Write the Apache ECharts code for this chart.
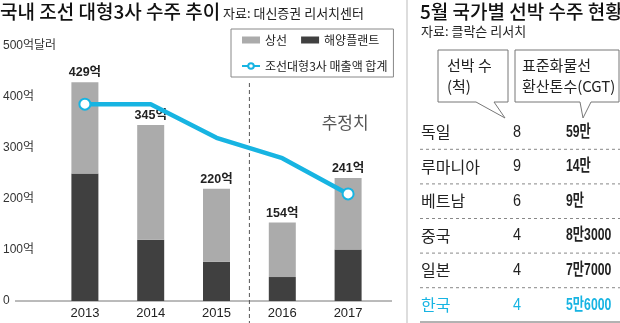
<!DOCTYPE html>
<html><head><meta charset="utf-8">
<script src="https://cdn.jsdelivr.net/npm/echarts@6/dist/echarts.min.js"></script>
<style>html,body{margin:0;padding:0;background:#fff}#c{width:620px;height:323px}</style>
</head><body><div id="c"></div>
<script>
const years = ['2013','2014','2015','2016','2017'];
const plant = [250,120,77,47,101];      // 해양플랜트
const ship = [179,225,143,107,140];     // 상선
const totals = [429,345,220,154,241];   // labels
const revenue = [386,386,320,280,210];  // 조선대형3사 매출액 합계

const countries = ['독일','루마니아','베트남','중국','일본','한국'];
const shipCounts = ['8','9','6','4','4','4'];
const cgt = ['59만','14만','9만','8만3000','7만7000','5만6000'];

const NUM = '"Liberation Sans","Noto Sans CJK KR",sans-serif';
const KR = '"Noto Sans CJK KR","Liberation Sans",sans-serif';
const CYAN = '#17b4e2';

const chart = echarts.init(document.getElementById('c'));
chart.setOption({
  animation:false,
  textStyle:{fontFamily:NUM},
  grid:{left:49,right:239,top:46,bottom:22},
  legend:{
    left:231, top:29, width:142,
    padding:[5,6,5,10], itemGap:14,
    borderColor:'#888', borderWidth:1,
    itemWidth:18, itemHeight:7,
    textStyle:{fontFamily:KR,fontSize:12,color:'#222'},
    data:[{name:'상선',icon:'rect'},{name:'해양플랜트',icon:'rect'},{name:'조선대형3사 매출액 합계'}]
  },
  xAxis:{
    type:'category', data:years, boundaryGap:true,
    axisLine:{show:false}, axisTick:{show:false}, splitLine:{show:false},
    axisLabel:{margin:6,fontSize:13,color:'#222',fontFamily:NUM}
  },
  yAxis:{
    type:'value', min:0, max:500, interval:100,
    axisLine:{show:false}, axisTick:{show:false}, splitLine:{show:false},
    axisLabel:{align:'left',margin:49,fontSize:12,color:'#333',fontFamily:NUM,
      formatter:v=> v===0?'0':(v===500?'500억달러':v+'억')}
  },
  series:[
    {name:'해양플랜트',type:'bar',stack:'s',barWidth:27,
     itemStyle:{color:'#404040'}, data:plant},
    {name:'상선',type:'bar',stack:'s',barWidth:27,
     itemStyle:{color:'#ababab'},
     label:{show:true,position:'top',distance:3,fontSize:12.5,fontWeight:'bold',color:'#222',
       fontFamily:NUM,formatter:p=>totals[p.dataIndex]+'억'},
     data:ship},
    {name:'조선대형3사 매출액 합계',type:'line',z:5,
     symbol:'circle',symbolSize:11,
     lineStyle:{color:CYAN,width:4.5},
     itemStyle:{color:'#fff',borderColor:CYAN,borderWidth:2},
     data:revenue.map((v,i)=>({value:v,symbol:(i===0||i===revenue.length-1)?'circle':'none'}))}
  ]
});

const p2 = chart.convertToPixel({gridIndex:0},[2,0]);
const p3 = chart.convertToPixel({gridIndex:0},[3,0]);
const divX = (p2[0]+p3[0])/2;
const y0 = p2[1];
const p4 = chart.convertToPixel({gridIndex:0},[4,350]);

const g = [];
g.push({type:'line',shape:{x1:15,y1:y0,x2:392,y2:y0},style:{stroke:'#777',lineWidth:1}});
g.push({type:'text',left:0,top:2,style:{text:'국내 조선 대형3사 수주 추이',fontFamily:KR,fontSize:19,fontWeight:500,fill:'#111'}});
g.push({type:'text',left:223,top:7,style:{text:'자료: 대신증권 리서치센터',fontFamily:KR,fontSize:13,fill:'#222'}});
g.push({type:'text',left:420,top:2,style:{text:'5월 국가별 선박 수주 현황',fontFamily:KR,fontSize:19,fontWeight:500,fill:'#111'}});
g.push({type:'text',left:421,top:25,style:{text:'자료: 클락슨 리서치',fontFamily:KR,fontSize:13,fill:'#222'}});
g.push({type:'line',shape:{x1:407,y1:0,x2:407,y2:323},style:{stroke:'#bbb',lineWidth:1}});
g.push({type:'line',shape:{x1:divX,y1:83,x2:divX,y2:323},style:{stroke:'#555',lineWidth:1,lineDash:[4,3]}});
g.push({type:'text',x:p4[0]-3,y:p4[1],style:{text:'추정치',fontFamily:KR,fontSize:17,fill:'#555',align:'center',verticalAlign:'middle'}});
g.push({type:'polygon',shape:{points:[[438,50],[508,50],[508,102],[494,102],[505,118],[476,102],[438,102]]},style:{fill:'#fff',stroke:'#777',lineWidth:1}});
g.push({type:'polygon',shape:{points:[[515,50],[619,50],[619,102],[591,102],[583,118],[580,102],[515,102]]},style:{fill:'#fff',stroke:'#777',lineWidth:1}});
g.push({type:'text',left:447,top:55,style:{text:'선박 수\n(척)',fontFamily:KR,fontSize:15,lineHeight:21,fill:'#222'}});
g.push({type:'text',left:522,top:55,style:{text:'표준화물선\n환산톤수(CGT)',fontFamily:KR,fontSize:15,lineHeight:21,fill:'#222'}});
const rowH = 34.6, row0 = 132;
countries.forEach((c,i)=>{
  const y = row0 + i*rowH;
  const col = i===countries.length-1 ? CYAN : '#222';
  g.push({type:'text',x:421,y:y,style:{text:c,fontFamily:KR,fontSize:16,fill:col,verticalAlign:'middle'}});
  g.push({type:'text',x:517,y:y,scaleX:0.85,style:{text:shipCounts[i],fontFamily:NUM,fontSize:17,fill:col,align:'center',verticalAlign:'middle'}});
  g.push({type:'text',x:566,y:y,scaleX:0.72,style:{text:cgt[i],fontFamily:NUM,fontSize:17,fontWeight:'bold',fill:col,verticalAlign:'middle'}});
  const ly = y + rowH/2;
  if(i<countries.length-1){
    g.push({type:'line',shape:{x1:420,y1:ly,x2:620,y2:ly},style:{stroke:'#888',lineWidth:1,lineDash:[3,3]}});
  } else {
    g.push({type:'line',shape:{x1:420,y1:322,x2:620,y2:322},style:{stroke:'#666',lineWidth:1}});
  }
});
chart.setOption({graphic:g});
</script>
</body></html>
